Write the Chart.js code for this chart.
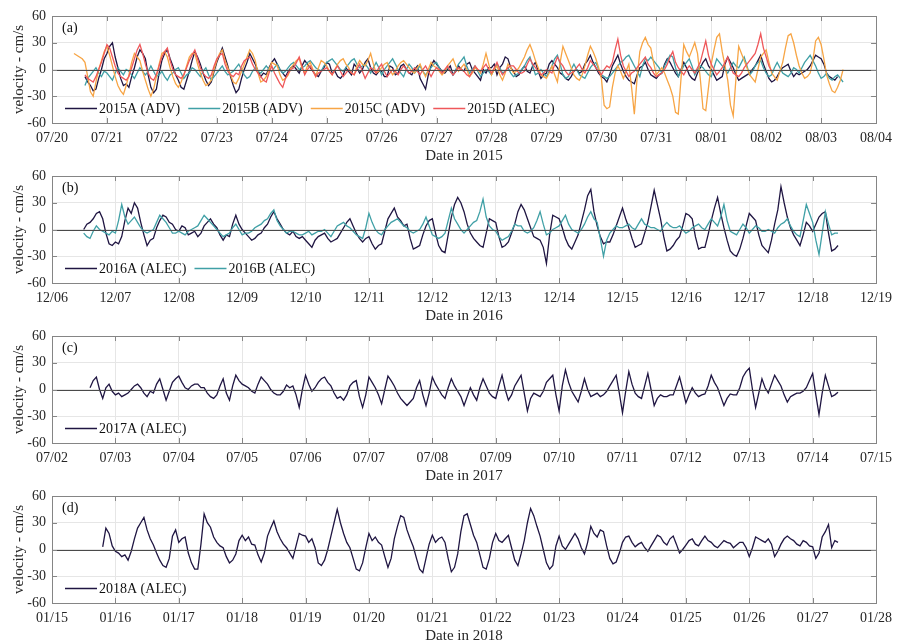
<!DOCTYPE html>
<html>
<head>
<meta charset="utf-8">
<script src="https://cdn.jsdelivr.net/npm/chart.js@4.4.1/dist/chart.umd.min.js"></script>
<style>
  body { margin: 0; background: #fff; }
  #wrap { position: relative; width: 899px; height: 640px; overflow: hidden; }
  #wrap canvas { position: absolute; left: 0; }
</style>
</head>
<body>
<div id="wrap">
  <canvas id="c2015" width="899" height="170" style="top:0px"></canvas>
  <canvas id="c2016" width="899" height="170" style="top:160px"></canvas>
  <canvas id="c2017" width="899" height="170" style="top:320px"></canvas>
  <canvas id="c2018" width="899" height="170" style="top:480px"></canvas>
</div>
<script>
// velocity samples every 0.05 day (one row = one day), from the start day of each series
const SAMPLE_STEP = 0.05;
const yTickValues = [-60, -30, 0, 30, 60];

// ---- (a) 2015 ----
const days2015 = ['07/20','07/21','07/22','07/23','07/24','07/25','07/26','07/27','07/28','07/29','07/30','07/31','08/01','08/02','08/03','08/04'];
const start2015A = 0.6;
const vel2015A = [
  -8,-14,-18,-24,-22,-10,0,12,
  18,26,30,14,2,-10,-18,-16,-20,-8,2,14,22,18,12,-6,-20,-26,-22,-4,
  10,18,22,12,4,-6,-12,-20,-22,-12,-2,10,20,14,6,-4,-12,-18,-14,-2,
  8,16,24,14,4,-8,-18,-26,-22,-10,0,8,18,12,6,-2,-8,-4,-6,2,
  8,12,6,0,-4,-8,-2,2,4,0,-4,4,10,6,2,-2,-6,-8,-2,2,
  8,6,-4,-2,-8,-10,-6,2,-2,-6,6,2,-4,0,8,12,2,-4,-6,-2,
  -2,-8,-8,4,2,-6,-4,4,6,0,-4,-6,0,4,-10,-16,-22,-6,4,10,
  6,2,-2,-4,0,4,-6,-2,4,0,-2,6,8,0,-4,-8,-12,0,-4,2,
  2,6,-6,2,6,14,12,2,-2,-8,-6,0,4,-2,-4,4,8,-2,-10,-6,
  -4,6,10,6,2,-4,-6,-10,-12,-8,-2,0,-4,-2,6,10,16,8,2,-4,
  -8,-10,-14,-6,4,10,16,6,-2,-8,-12,-14,-16,-6,2,4,8,0,-6,-8,
  -10,-6,-4,6,12,8,2,-4,-8,0,8,2,-6,-10,-12,-4,2,8,12,4,
  0,-6,-12,-10,-8,6,14,8,2,-6,-12,-10,-8,-6,-4,0,4,10,16,6,
  -2,-10,-14,-12,-8,-2,2,4,6,-2,-8,-4,-6,-4,-2,0,4,10,16,14,
  12,6,-4,-8,-10,-12,-8];
const start2015B = 0.6;
const vel2015B = [
  -18,-10,-6,-2,2,-4,-8,-2,
  -4,-8,-12,-4,2,-2,-6,0,-2,-6,-10,-4,2,-2,-6,-2,4,-2,-8,-6,
  -2,-8,-12,-6,-4,0,2,-4,-10,-6,-4,2,0,-4,-8,-2,2,-6,-12,-8,
  -4,0,4,-2,-6,-4,-2,2,6,0,-6,-10,-8,-2,2,-2,-4,0,4,0,
  -2,2,6,0,-4,-2,2,6,8,4,0,2,4,8,10,6,2,0,-2,4,
  8,10,12,8,4,0,-2,2,6,10,12,6,2,4,6,2,-4,2,8,2,
  -6,0,4,8,12,6,0,-4,-8,0,6,2,-4,0,4,-2,-6,-2,2,6,
  8,2,-4,-2,2,-2,-6,0,6,10,14,4,-4,0,4,-2,-8,-4,0,-2,
  -6,0,6,2,-4,-2,2,-4,-8,-6,-4,0,4,10,14,4,-6,-4,0,-4,
  -8,-2,4,12,16,6,-6,-10,-8,0,6,0,-6,-8,-10,-4,2,6,8,0,
  -6,-8,-10,-8,-4,0,4,8,10,14,16,10,4,-2,-8,4,12,10,14,10,
  6,2,-4,4,10,16,14,2,-8,-2,4,8,12,4,-6,0,4,2,-2,-6,
  -8,2,12,8,4,0,-4,2,8,4,2,8,14,4,-6,-2,4,8,10,2,
  -4,-8,-6,2,8,2,-4,-6,-8,-4,2,0,-4,2,8,12,16,10,4,-4,
  -10,-8,-4,-10,-12,-8,-6,-10,-14];
const start2015C = 0.4;
const vel2015C = [
  18,16,14,12,8,-8,-25,-30,-14,0,10,20,
  26,16,4,-8,-18,-24,-28,-18,-6,8,18,14,10,-2,-12,-22,-30,-22,-8,6,
  18,20,14,2,-8,-16,-20,-14,-6,4,14,18,18,6,-4,-12,-18,-16,-12,0,
  10,18,22,10,2,-6,-14,-16,-10,-2,6,14,22,18,10,-4,-14,-12,-8,0,
  8,6,4,-6,-12,-10,-6,2,6,10,12,2,-4,4,8,0,-8,2,10,8,
  4,-2,-6,0,6,10,12,6,2,-4,-6,4,10,6,4,10,18,6,-4,-2,
  2,6,8,0,-6,-2,4,8,10,6,2,-2,-4,2,6,-2,-8,0,8,4,
  2,-2,-6,-2,4,8,12,4,-2,2,6,0,-8,-4,2,0,-4,6,18,6,
  -6,0,4,-6,-12,-4,6,2,-4,-2,2,8,14,22,28,20,10,2,-6,-8,
  -10,-4,4,-6,-14,8,26,18,10,2,-6,-10,-12,-6,4,16,26,20,12,2,
  -10,-40,-44,-42,-20,-4,4,-2,-10,-2,6,-20,-50,-10,20,30,36,28,24,8,
  -6,-2,2,-4,-12,-20,-30,-48,-50,-10,28,20,14,22,30,18,-10,-44,-46,-20,
  6,22,36,40,20,4,-12,-40,-52,-10,26,18,10,2,-6,-10,-14,0,14,18,
  22,8,-4,-8,-12,-2,8,24,38,40,30,16,4,-4,-10,-8,-4,10,32,36,
  28,12,-6,-16,-24,-26,-20,-12,0];
const start2015D = 0.6;
const vel2015D = [
  -6,-10,-12,-14,-8,0,8,18,
  28,24,14,4,-4,-8,-10,-12,-8,2,12,22,28,18,6,-4,-10,-12,-6,4,
  14,20,24,10,0,-6,-8,-10,-6,2,10,16,22,12,2,-4,-8,-10,-6,4,
  12,16,18,6,-2,-6,-8,-4,-6,4,10,12,14,6,0,-4,-8,-12,-14,-4,
  4,-4,-10,-16,-20,-10,-4,0,2,8,14,4,-6,0,4,-2,-8,-4,-2,0,
  2,-2,-6,0,4,-2,-8,-4,0,-4,-6,0,6,-2,-10,-4,2,0,-4,2,
  6,-2,-8,-4,0,-2,-6,0,4,0,-4,-2,2,-2,-6,0,4,-2,-8,-2,
  2,0,-4,0,4,-2,-6,-2,2,0,-2,-6,-8,-2,4,0,-2,2,6,0,
  -4,2,8,0,-6,-2,2,4,4,0,-4,-4,-2,6,12,6,2,-2,-6,-4,
  0,-2,-4,6,14,8,4,-2,-6,-4,-2,2,6,0,-4,2,10,6,2,-2,
  -6,0,4,2,8,22,34,16,4,-2,-8,-4,-2,2,6,10,14,6,2,-4,
  -8,-6,-4,0,6,14,20,8,2,-2,-6,0,4,0,-4,2,8,20,32,16,
  6,0,-6,-2,2,8,14,4,-4,-6,-8,-4,2,6,10,14,18,28,40,24,
  14,4,-2];

// ---- (b) 2016 ----
const days2016 = ['12/06','12/07','12/08','12/09','12/10','12/11','12/12','12/13','12/14','12/15','12/16','12/17','12/18','12/19'];
const start2016A = 0.5;
const vel2016A = [
  0,6,8,12,18,20,12,-4,-16,-18,
  -14,-16,-8,10,24,18,30,24,8,-6,-18,-12,-10,2,10,16,14,8,6,0,
  -2,4,2,-6,-4,-2,-8,-4,4,8,12,6,2,-6,-12,-6,-8,6,16,6,
  0,-4,-8,-12,-10,-6,-4,2,6,14,20,12,6,0,-4,-6,-2,-8,-10,-8,
  -12,-16,-20,-12,-8,-6,-4,-10,-14,-12,-10,-4,2,8,12,4,-4,-10,-14,-10,
  -8,-16,-22,-18,-16,-2,12,18,24,14,10,4,6,-10,-22,-20,-18,-6,4,10,
  12,-4,-18,-24,-26,-6,14,28,36,30,20,6,-4,-10,-14,-18,-20,-4,12,10,
  8,-8,-20,-18,-14,-4,6,20,28,22,12,2,-8,-10,-12,-20,-38,-6,16,14,
  12,2,-10,-18,-22,-14,-6,8,22,38,45,20,4,-8,-16,-14,-14,-6,4,14,
  24,12,2,-10,-20,-18,-16,-4,8,26,44,28,12,-8,-24,-22,-18,-12,-8,4,
  18,16,12,-8,-22,-20,-20,-6,10,24,36,18,2,-12,-24,-28,-30,-22,-10,4,
  18,14,10,-6,-18,-22,-26,-12,6,22,48,30,14,2,-6,-12,-18,-6,8,4,
  -2,6,14,18,20,-4,-24,-22,-18];
const start2016B = 0.5;
const vel2016B = [
  -4,-8,-10,-2,4,0,-2,-4,-6,-2,
  -4,10,28,14,6,10,14,8,2,-2,-4,-2,0,8,16,12,8,2,-4,-4,
  -2,-4,-6,-2,0,2,4,10,16,12,8,4,0,-4,-8,-6,-4,2,6,0,
  -6,-4,-4,-2,2,4,6,10,12,18,22,10,4,0,-4,-2,-2,-4,-6,-6,
  -4,-2,-6,-4,-2,-2,0,-4,-8,-2,4,6,8,4,2,-2,-6,-8,-10,2,
  18,8,0,-4,-6,0,4,8,10,12,8,4,2,-2,-4,-2,0,6,14,4,
  -6,-8,-10,-8,-4,10,24,12,6,0,-4,0,4,8,10,20,34,14,4,0,
  -2,-8,-12,-10,-8,-2,6,4,4,-2,-4,-2,2,10,20,6,-6,-4,0,2,
  4,10,16,6,0,-2,-4,0,6,14,20,12,8,-10,-30,-12,-4,0,4,2,
  2,4,6,2,0,6,12,6,4,2,2,0,-2,4,8,4,2,2,4,0,
  -4,-2,2,4,6,2,0,6,12,8,4,14,28,10,-2,-4,-6,0,6,2,
  -4,0,4,2,-2,-2,0,-2,-4,2,6,8,12,4,-2,-6,-8,10,28,18,
  8,-12,-28,-4,20,6,-6,-4,-4];

// ---- (c) 2017 ----
const days2017 = ['07/02','07/03','07/04','07/05','07/06','07/07','07/08','07/09','07/10','07/11','07/12','07/13','07/14','07/15'];
const start2017A = 0.6;
const vel2017A = [
  2,10,14,0,-10,2,6,-2,
  -6,-4,-8,-6,-4,0,4,6,2,-4,-8,-2,-4,6,12,0,-12,-2,8,12,
  15,8,2,0,4,6,6,2,2,-4,-8,-10,-6,4,12,-4,-12,4,16,10,
  6,4,2,-2,-4,6,14,10,6,0,-4,-6,-6,-2,5,2,4,-6,-20,0,
  16,6,-2,2,8,12,14,8,4,-4,-10,-8,-12,-6,4,8,10,-8,-20,-6,
  14,8,2,-6,-16,0,15,10,4,-4,-10,-14,-18,-14,-10,2,10,-6,-18,-4,
  14,6,0,-6,-10,2,12,4,-2,-8,-18,-8,2,-6,-12,2,12,4,-4,-8,
  -10,4,16,0,-12,-6,4,10,16,-4,-24,-10,-4,-6,-8,-2,8,12,16,-6,
  -24,4,22,8,-2,-8,-14,-2,12,0,-8,-6,-4,-8,-6,-2,4,10,16,-4,
  -26,-2,20,6,-4,-8,-10,4,18,0,-18,-10,-6,-8,-8,-6,-6,4,14,0,
  -15,-6,2,-4,-8,-6,-5,4,16,8,2,-8,-18,-10,-5,-6,-6,2,14,20,
  24,0,-20,-4,12,2,-4,6,16,10,4,-6,-14,-8,-6,-4,-4,-2,2,10,
  18,-6,-28,-4,16,4,-8,-6,-3];

// ---- (d) 2018 ----
const days2018 = ['01/15','01/16','01/17','01/18','01/19','01/20','01/21','01/22','01/23','01/24','01/25','01/26','01/27','01/28'];
const start2018A = 0.8;
const vel2018A = [
  3,24,18,4,
  -2,-4,-8,-6,-12,-2,12,24,30,36,22,12,5,-4,-12,-18,-20,-10,15,22,
  8,12,14,-4,-15,-22,-22,6,40,30,25,14,8,4,2,-8,-15,-12,-5,10,
  16,10,14,6,5,-6,-14,-4,15,24,32,20,12,6,2,-4,-10,4,18,16,
  15,8,12,2,-15,-18,-12,0,15,30,45,30,18,8,2,-10,-22,-24,-15,2,
  18,10,14,8,5,-8,-20,-10,12,26,38,36,22,12,3,-10,-22,-26,-10,6,
  16,8,12,14,8,-10,-25,-20,-5,20,38,40,28,16,8,-6,-20,-22,-10,8,
  18,10,8,12,16,2,-12,-18,-5,10,30,46,38,26,15,0,-15,-22,-18,4,
  15,4,0,6,12,18,12,2,-5,8,26,18,14,22,20,4,-10,-16,-14,-4,
  8,14,15,8,3,6,8,2,-2,4,10,16,14,8,5,12,15,6,-4,0,
  5,10,12,6,4,10,15,10,8,4,2,6,10,8,7,2,5,8,8,2,
  -8,2,14,12,10,8,12,6,-8,-2,6,12,15,12,10,6,4,10,8,4,
  3,-10,-4,14,20,28,2,10,8];

const serif = '"Liberation Serif", "Times New Roman", serif';
const colA = '#1f1542';
const colB = '#40a0a6';
const colC = '#f7a545';
const colD = '#ef575a';

function series(label, start, vals, color, order) {
  return {
    label: label,
    data: vals.map((v, i) => ({ x: start + i * SAMPLE_STEP, y: v })),
    borderColor: color,
    borderWidth: 1.3,
    pointRadius: 0,
    tension: 0,
    order: order
  };
}

const decor = {
  id: 'decor',
  afterDatasetsDraw(chart, args, opts) {
    const { ctx, chartArea: a, scales } = chart;
    const x = scales.x, y = scales.y;
    ctx.save();
    // zero line
    const y0 = Math.round(y.getPixelForValue(0)) + 0.5;
    ctx.strokeStyle = '#4a4a4a';
    ctx.lineWidth = 1;
    ctx.beginPath();
    ctx.moveTo(a.left, y0);
    ctx.lineTo(a.right, y0);
    ctx.stroke();
    // box and inward ticks
    ctx.strokeStyle = '#858585';
    ctx.strokeRect(Math.round(a.left) + 0.5, Math.round(a.top) + 0.5, Math.round(a.right - a.left), Math.round(a.bottom - a.top));
    ctx.beginPath();
    x.ticks.forEach(t => {
      const px = Math.round(x.getPixelForValue(t.value)) + 0.5;
      ctx.moveTo(px, a.bottom); ctx.lineTo(px, a.bottom - 5);
      ctx.moveTo(px, a.top); ctx.lineTo(px, a.top + 5);
    });
    y.ticks.forEach(t => {
      const py = Math.round(y.getPixelForValue(t.value)) + 0.5;
      ctx.moveTo(a.left, py); ctx.lineTo(a.left + 5, py);
      ctx.moveTo(a.right, py); ctx.lineTo(a.right - 5, py);
    });
    ctx.stroke();
    // panel tag
    ctx.fillStyle = '#111';
    ctx.font = '14px ' + serif;
    ctx.textBaseline = 'middle';
    ctx.textAlign = 'left';
    ctx.fillText(opts.tag, a.left + 10, a.top + 12);
    // legend
    const ly = a.top + 92;
    let lx = a.left + 13;
    const items = chart.data.datasets;
    let total = 0;
    items.forEach(d => { total += 34 + ctx.measureText(d.label).width + 8; });
    ctx.fillStyle = '#fff';
    ctx.fillRect(a.left + 8, ly - 8, total + 4, 16);
    items.forEach(d => {
      ctx.strokeStyle = d.borderColor;
      ctx.lineWidth = 1.5;
      ctx.beginPath();
      ctx.moveTo(lx, ly + 0.5);
      ctx.lineTo(lx + 32, ly + 0.5);
      ctx.stroke();
      ctx.fillStyle = '#111';
      ctx.fillText(d.label, lx + 34, ly + 1);
      lx += 34 + ctx.measureText(d.label).width + 8;
    });
    ctx.restore();
  }
};

function makePanel(id, tag, dayLabels, year, datasets) {
  new Chart(document.getElementById(id), {
    type: 'line',
    data: { datasets: datasets },
    plugins: [decor],
    options: {
      responsive: false,
      animation: false,
      events: [],
      layout: { padding: { left: 0, right: 19, top: 16, bottom: 5 } },
      plugins: {
        legend: { display: false },
        tooltip: { enabled: false },
        decor: { tag: tag }
      },
      scales: {
        x: {
          type: 'linear',
          min: 0,
          max: dayLabels.length - 1,
          afterBuildTicks: s => { s.ticks = dayLabels.map((l, i) => ({ value: i })); },
          afterFit: s => { s.height = 42; },
          ticks: {
            callback: v => dayLabels[v],
            font: { family: serif, size: 14 },
            color: '#262626',
            padding: 7,
            maxRotation: 0,
            autoSkip: false
          },
          grid: { color: '#e6e6e6', drawTicks: false },
          border: { display: false },
          title: {
            display: true,
            text: 'Date in ' + year,
            font: { family: serif, size: 15 },
            color: '#262626',
            padding: { top: 0, bottom: 0 }
          }
        },
        y: {
          min: -60,
          max: 60,
          afterBuildTicks: s => { s.ticks = yTickValues.map(v => ({ value: v })); },
          afterFit: s => { s.width = 52; },
          ticks: {
            font: { family: serif, size: 14 },
            color: '#262626',
            padding: 6
          },
          grid: { color: '#e6e6e6', drawTicks: false },
          border: { display: false },
          title: {
            display: true,
            text: 'velocity - cm/s',
            font: { family: serif, size: 15 },
            color: '#262626',
            padding: { top: 10, bottom: 0 }
          }
        }
      }
    }
  });
}

makePanel('c2015', '(a)', days2015, 2015, [
  series('2015A (ADV)', start2015A, vel2015A, colA, 4),
  series('2015B (ADV)', start2015B, vel2015B, colB, 3),
  series('2015C (ADV)', start2015C, vel2015C, colC, 2),
  series('2015D (ALEC)', start2015D, vel2015D, colD, 1)
]);
makePanel('c2016', '(b)', days2016, 2016, [
  series('2016A (ALEC)', start2016A, vel2016A, colA, 2),
  series('2016B (ALEC)', start2016B, vel2016B, colB, 1)
]);
makePanel('c2017', '(c)', days2017, 2017, [
  series('2017A (ALEC)', start2017A, vel2017A, colA, 1)
]);
makePanel('c2018', '(d)', days2018, 2018, [
  series('2018A (ALEC)', start2018A, vel2018A, colA, 1)
]);
</script>
</body>
</html>
